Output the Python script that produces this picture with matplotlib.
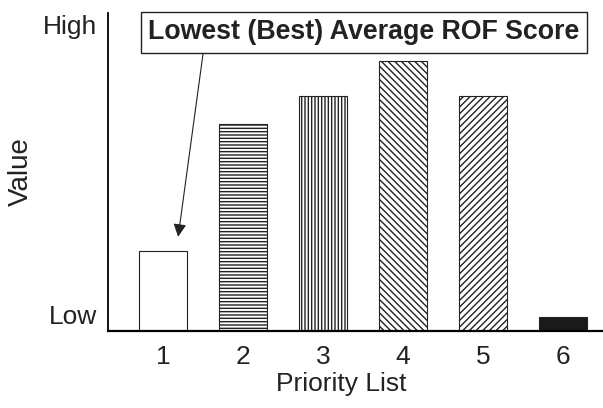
import matplotlib
matplotlib.use('Agg')
import matplotlib.pyplot as plt

plt.rcParams['font.family'] = ['Liberation Sans', 'DejaVu Sans']
plt.rcParams['hatch.linewidth'] = 1.0

lists = [1, 2, 3, 4, 5, 6]
values = [0.25, 0.65, 0.74, 0.85, 0.74, 0.045]
hatches = ['', '-----', '|||||', '\\\\\\\\\\', '/////', '']
fills = ['white', 'white', 'white', 'white', 'white', '#1a1a1a']
y_ticks = [0.05, 0.965]
y_labels = ['Low', 'High']

fig = plt.figure(figsize=(6.03, 4.08), dpi=100)
ax = fig.add_axes([0.179, 0.189, 0.821, 0.779])

for x, v, h, c in zip(lists, values, hatches, fills):
    ax.bar(x, v, width=0.59, color=c, edgecolor='#222222', hatch=h, linewidth=0.8)

ax.set_xlim(0.3125, 6.5)
ax.set_ylim(0, 1)
ax.set_xticks(lists)
ax.set_xticklabels([str(i) for i in lists], fontsize=19, color='#222222')
ax.set_yticks(y_ticks)
ax.set_yticklabels(y_labels, fontsize=19, color='#222222')
ax.tick_params(length=0)
ax.tick_params(axis='x', pad=10)
ax.tick_params(axis='y', pad=8)
ax.set_xlabel('Priority List', fontsize=19, color='#222222')
ax.xaxis.set_label_coords(0.472, -0.13)
ax.set_ylabel('Value', fontsize=20, color='#222222')
ax.yaxis.set_label_coords(-0.15, 0.5)
for s in ['top', 'right']:
    ax.spines[s].set_visible(False)
ax.spines['left'].set_linewidth(1.3)
ax.spines['bottom'].set_linewidth(1.6)

ax.annotate('Lowest (Best) Average ROF Score', xy=(1.19, 0.296), xytext=(3.51, 0.94),
            fontsize=19.3, fontweight='bold', ha='center', va='center', color='#222222',
            bbox=dict(boxstyle='square,pad=0.28', fc='white', ec='#222222', lw=1),
            arrowprops=dict(arrowstyle='-|>', color='#222222', lw=0.8,
                            shrinkA=0, shrinkB=0, relpos=(0.13, 0)))

fig.savefig('out.png', dpi=100)
